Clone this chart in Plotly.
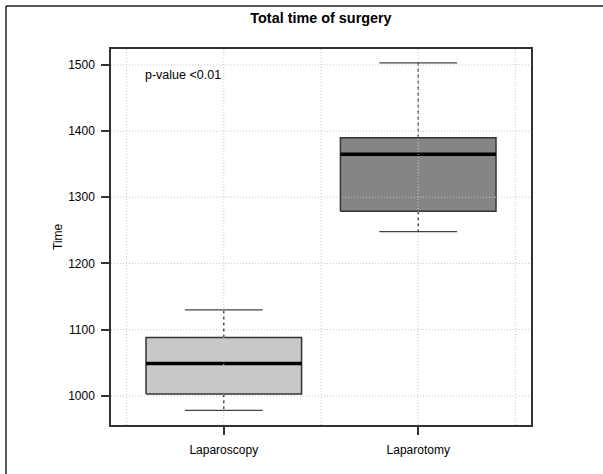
import plotly.graph_objects as go

categories = ["Laparoscopy", "Laparotomy"]
whisker_low = [978, 1248]
q1 = [1003, 1279]
median = [1049, 1365]
q3 = [1088, 1390]
whisker_high = [1130, 1503]
fills = ["#c8c8c8", "#858585"]
y_ticks = [1000, 1100, 1200, 1300, 1400, 1500]
x_grid = [0.5, 1, 1.5, 2, 2.5]
title_text = "Total time of surgery"
y_title = "Time"
p_text = "p-value <0.01"
p_pos = (0.79, 1485)

FONT = "Liberation Sans, Arial, Helvetica, sans-serif"
fig = go.Figure()
half = 0.4
staple = 0.2
for i, cat in enumerate(categories):
    xc = i + 1
    fig.add_trace(go.Scatter(
        x=[xc - half, xc + half, xc + half, xc - half, xc - half],
        y=[q1[i], q1[i], q3[i], q3[i], q1[i]],
        fill="toself", fillcolor=fills[i], mode="lines",
        line=dict(color="#333333", width=1.5), hoverinfo="skip", showlegend=False))
    fig.add_trace(go.Scatter(
        x=[xc - half, xc + half], y=[median[i], median[i]], mode="lines",
        line=dict(color="#000000", width=3.5), hoverinfo="skip", showlegend=False))
    fig.add_trace(go.Scatter(
        x=[xc, xc, None, xc, xc],
        y=[q3[i], whisker_high[i], None, q1[i], whisker_low[i]], mode="lines",
        line=dict(color="#333333", width=1.3, dash="3px,3px"), hoverinfo="skip", showlegend=False))
    fig.add_trace(go.Scatter(
        x=[xc - staple, xc + staple, None, xc - staple, xc + staple],
        y=[whisker_high[i], whisker_high[i], None, whisker_low[i], whisker_low[i]], mode="lines",
        line=dict(color="#444444", width=1.3), hoverinfo="skip", showlegend=False))

shapes = []
for yv in y_ticks:
    shapes.append(dict(type="line", xref="paper", yref="y", x0=0, x1=1, y0=yv, y1=yv,
                       line=dict(color="#c8c8c8", width=1, dash="1px,2px"), layer="above"))
for xv in x_grid:
    shapes.append(dict(type="line", xref="x", yref="paper", x0=xv, x1=xv, y0=0, y1=1,
                       line=dict(color="#c8c8c8", width=1, dash="1px,2px"), layer="above"))
# outer frame (left and top edges)
shapes.append(dict(type="line", xref="paper", yref="paper", x0=-0.25, x1=-0.25, y0=-0.2, y1=1.1144,
                   line=dict(color="#222222", width=1.5)))
shapes.append(dict(type="line", xref="paper", yref="paper", x0=-0.25, x1=1.25, y0=1.1144, y1=1.1144,
                   line=dict(color="#222222", width=1.5)))

fig.update_layout(
    width=603, height=474,
    margin=dict(l=111, r=72, t=49, b=49),
    paper_bgcolor="white", plot_bgcolor="white",
    font=dict(family=FONT, size=12, color="black"),
    title=dict(text="<b>" + title_text + "</b>", x=0.5, xref="paper", xanchor="center",
               y=1 - 18 / 474, yref="container", yanchor="middle",
               font=dict(size=14.4, family=FONT, color="black")),
    shapes=shapes,
    annotations=[
        dict(text=p_text, x=p_pos[0], y=p_pos[1], xref="x", yref="y", showarrow=False,
             xanchor="center", yanchor="middle", font=dict(size=12.5, family=FONT, color="black")),
        dict(text=y_title, x=(58 - 111) / 420, y=0.5, xref="paper", yref="paper", showarrow=False,
             textangle=-90, xanchor="center", yanchor="middle", font=dict(size=12, family=FONT, color="black")),
    ],
    xaxis=dict(range=[0.42, 2.58], tickmode="array", tickvals=[1, 2], ticktext=categories,
               ticks="outside", ticklen=8, tickwidth=1.5, tickcolor="#333333",
               showline=True, mirror=True, linecolor="#333333", linewidth=1.5,
               showgrid=False, zeroline=False, ticklabelstandoff=5,
               tickfont=dict(size=12, family=FONT, color="black")),
    yaxis=dict(range=[956, 1524], tickmode="array", tickvals=y_ticks,
               ticks="outside", ticklen=8, tickwidth=1.5, tickcolor="#333333",
               showline=True, mirror=True, linecolor="#333333", linewidth=1.5,
               showgrid=False, zeroline=False, ticklabelstandoff=4,
               tickfont=dict(size=12, family=FONT, color="black")),
)

fig.write_html("out.html", config={"displayModeBar": False},
               post_script="document.body.style.margin='0px';")
